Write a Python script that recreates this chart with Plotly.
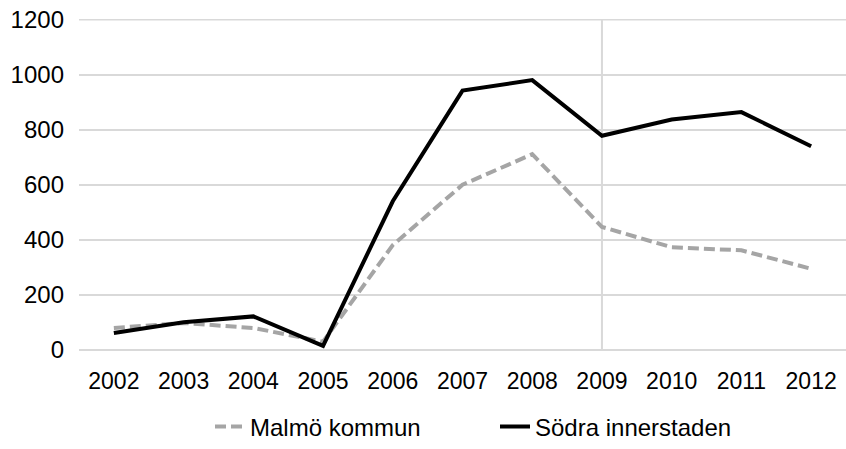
import plotly.graph_objects as go

years = ["2002", "2003", "2004", "2005", "2006", "2007", "2008", "2009", "2010", "2011", "2012"]
malmo = [80, 98, 80, 30, 381, 600, 711, 447, 373, 362, 295]
sodra = [62, 101, 122, 15, 540, 942, 980, 778, 837, 864, 740]
y_ticks = [0, 200, 400, 600, 800, 1000, 1200]
marker_year_index = years.index("2009")

FONT = "Liberation Sans, Arial, sans-serif"
GRID = "#D9D9D9"

fig = go.Figure()
fig.add_trace(go.Scatter(
    x=years, y=malmo, name="Malmö kommun", mode="lines",
    line=dict(color="#A5A5A5", width=4, dash="11px,5px"),
))
fig.add_trace(go.Scatter(
    x=years, y=sodra, name="Södra innerstaden", mode="lines",
    line=dict(color="#000000", width=4),
))

fig.add_shape(type="line", xref="x", yref="paper",
              x0=marker_year_index, x1=marker_year_index, y0=0, y1=1,
              line=dict(color=GRID, width=2), layer="below")
# top gridline (plotly drops gridlines lying on the plot edge)
fig.add_shape(type="line", xref="paper", yref="y",
              x0=0, x1=1, y0=max(y_ticks), y1=max(y_ticks),
              line=dict(color=GRID, width=2), layer="below")

fig.update_layout(
    width=846, height=449,
    margin=dict(l=79, r=0, t=19, b=99, pad=0),
    paper_bgcolor="white", plot_bgcolor="white",
    font=dict(family=FONT, size=23, color="#000000"),
    showlegend=True,
    legend=dict(orientation="h", xref="paper", yref="container",
                x=0.1708, xanchor="left", y=0.049, yanchor="middle",
                font=dict(size=24), entrywidth=240, entrywidthmode="pixels",
                tracegroupgap=0),
    xaxis=dict(type="category", categoryorder="array", categoryarray=years,
               range=[-0.5, len(years) - 0.5], automargin=False,
               showgrid=False, zeroline=False, showline=False,
               ticks="", ticklabelstandoff=15, tickfont=dict(size=23)),
    yaxis=dict(range=[0, 1202], tickvals=y_ticks, showgrid=True, gridcolor=GRID,
               gridwidth=2, zeroline=True, zerolinecolor=GRID, zerolinewidth=2,
               automargin=False, ticklabeloverflow="allow",
               showline=False, ticks="", ticklabelstandoff=14, tickfont=dict(size=24)),
)

fig.write_html("out.html", config={"displayModeBar": False},
               post_script="document.body.style.margin='0';")
